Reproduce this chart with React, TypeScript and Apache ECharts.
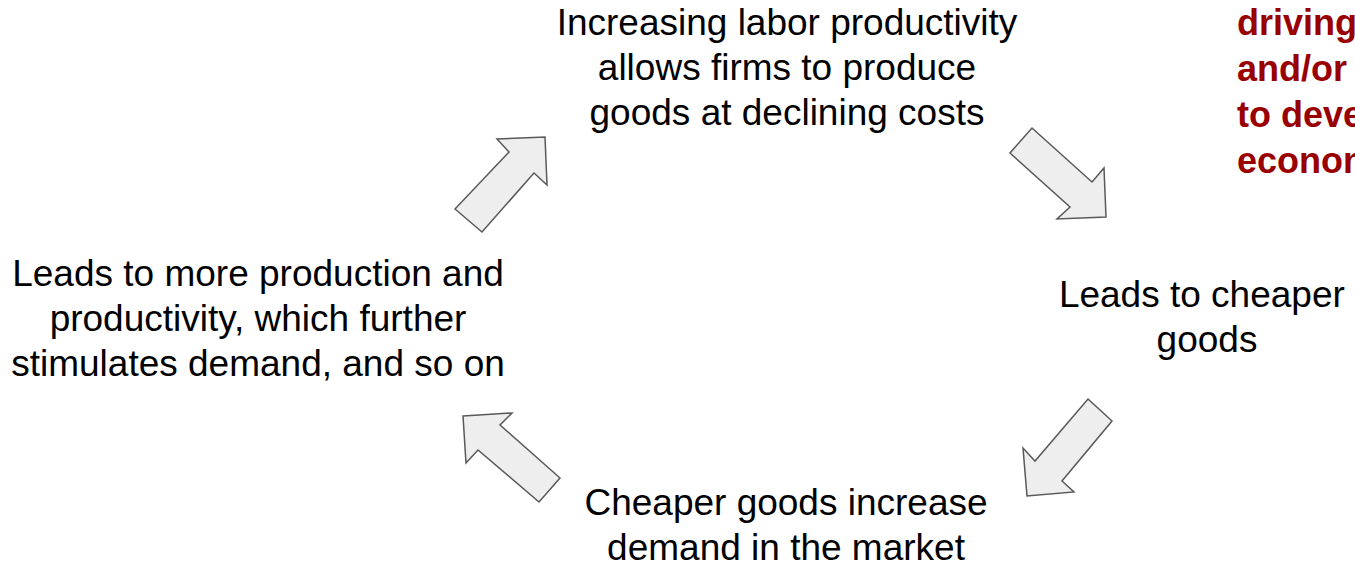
import React, { useEffect, useRef } from "react";
import * as echarts from "echarts";

const topLines = ["Increasing labor productivity", "allows firms to produce", "goods at declining costs"];
const rightLines = ["Leads to cheaper ", "goods"];
const bottomLines = ["Cheaper goods increase", "demand in the market"];
const leftLines = ["Leads to more production and", "productivity, which further", "stimulates demand, and so on"];
const redLines = ["driving", "and/or", "to develop", "economies"];

const arrowUpRight = [[455, 209], [509, 152], [497, 139], [545, 137], [547, 185], [534, 173], [482, 232]];
const arrowDownRight = [[1032, 128], [1092, 182], [1104, 168], [1106, 217], [1057, 219], [1070, 207], [1010, 153]];
const arrowDownLeft = [[1088, 399], [1112, 421], [1062, 481], [1074, 492], [1027, 496], [1023, 448], [1035, 461]];
const arrowUpLeft = [[463, 416], [512, 413], [500, 425], [560, 478], [539, 502], [478, 450], [466, 463]];

export default function App() {
  const ref = useRef<HTMLDivElement>(null);
  useEffect(() => {
    const chart = echarts.init(ref.current!, null, { renderer: "svg" });
    const font = "37px 'Liberation Sans', Arial, sans-serif";
    const block = (lines: string[], x: number, y: number) => ({
      type: "text",
      x,
      y,
      style: {
        text: lines.join("\n"),
        font,
        fill: "#000000",
        textAlign: "center",
        textVerticalAlign: "middle",
        lineHeight: 45,
      },
    });
    const arrow = (pts: number[][]) => ({
      type: "polygon",
      shape: { points: pts },
      style: { fill: "#eeeeee", stroke: "#595959", lineWidth: 1.5 },
    });
    chart.setOption({
      animation: false,
      graphic: [
        arrow(arrowUpRight),
        arrow(arrowDownRight),
        arrow(arrowDownLeft),
        arrow(arrowUpLeft),
        block(topLines, 787, 67),
        block(rightLines, 1207, 317),
        block(bottomLines, 786, 525),
        block(leftLines, 258, 318),
        {
          type: "text",
          x: 1237,
          y: 91,
          style: {
            text: redLines.join("\n"),
            font: "bold 36px 'Liberation Sans', Arial, sans-serif",
            fill: "#990000",
            textAlign: "left",
            textVerticalAlign: "middle",
            lineHeight: 46,
          },
        },
      ],
    });
    return () => chart.dispose();
  }, []);
  return (
    <div
      ref={ref}
      style={{ position: "fixed", left: 0, top: 0, width: 1355, height: 564, background: "#ffffff" }}
    />
  );
}
